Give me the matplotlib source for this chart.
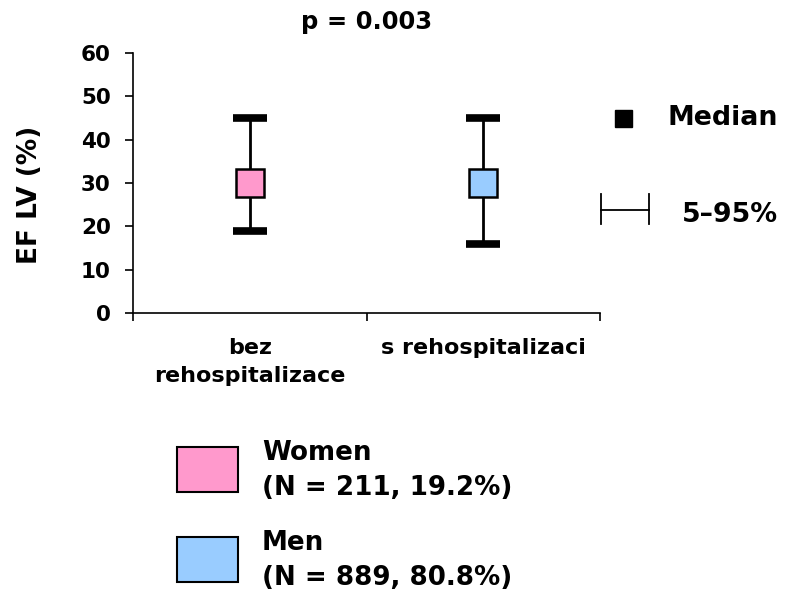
import matplotlib.pyplot as plt
from matplotlib.patches import Rectangle
from matplotlib.lines import Line2D

plt.rcParams['font.family'] = ['DejaVu Sans']
plt.rcParams['font.weight'] = 'bold'

categories = ['bez\nrehospitalizace', 's rehospitalizaci']
medians = [30, 30]
p5 = [19, 16]
p95 = [45, 45]
box_colors = ['#FF99CC', '#99CCFF']
groups = ['Women', 'Men']
group_info = ['(N = 211, 19.2%)', '(N = 889, 80.8%)']

fig = plt.figure(figsize=(7.85, 6), dpi=100)
ax = fig.add_axes([133/785, 1 - 313/600, 467/785, 260/600])

xpos = [0.25, 0.75]
for x, m, lo, hi, c in zip(xpos, medians, p5, p95, box_colors):
    ax.errorbar([x], [m], yerr=[[m - lo], [hi - m]], fmt='none', ecolor='black',
                elinewidth=2, capsize=12, capthick=5.5, zorder=2)
    ax.plot([x], [m], marker='s', markersize=19.5, markerfacecolor=c,
            markeredgecolor='black', markeredgewidth=1.8, zorder=3)

ax.set_xlim(0, 1)
ax.set_ylim(0, 60)
ax.set_yticks(range(0, 61, 10))
ax.set_xticks(xpos)
ax.set_xticklabels(categories, fontsize=16, fontweight='bold', linespacing=1.5)
ax.set_xticks([0, 0.5, 1], minor=True)
ax.tick_params(axis='x', which='major', length=0, pad=18)
ax.tick_params(axis='x', which='minor', length=6, width=1.2, direction='out')
ax.tick_params(axis='y', length=6, width=1.2, labelsize=15.5, pad=10)
for lab in ax.get_yticklabels():
    lab.set_fontweight('bold')
for s in ['top', 'right']:
    ax.spines[s].set_visible(False)
for s in ['left', 'bottom']:
    ax.spines[s].set_linewidth(1.2)

fig.text(30/785, 1 - 195/600, 'EF LV (%)', fontsize=19, fontweight='bold',
         rotation=90, ha='center', va='center')
ax.set_title('p = 0.003', fontsize=17.5, fontweight='bold', pad=17)

# right legend
fig.add_artist(Rectangle((615/785, 1 - 127/600), 17/785, 17/600,
                         facecolor='black', edgecolor='black',
                         transform=fig.transFigure))
fig.text(668/785, 1 - 118/600, 'Median', fontsize=19.3, fontweight='bold', va='center')
ey = 1 - 210/600
fig.add_artist(Line2D([601/785, 649/785], [ey, ey], color='black', lw=1.3,
                      transform=fig.transFigure))
for xx in [601/785, 649/785]:
    fig.add_artist(Line2D([xx, xx], [1 - 224/600, 1 - 194/600], color='black',
                          lw=1.3, transform=fig.transFigure))
fig.text(682/785, 1 - 215/600, '5–95%', fontsize=19.3, fontweight='bold', va='center')

# bottom legend
rect_tops = [447, 537]
for top, c, g, info in zip(rect_tops, box_colors, groups, group_info):
    fig.add_artist(Rectangle((177/785, 1 - (top + 45)/600), 61/785, 45/600,
                             facecolor=c, edgecolor='black', lw=1.5,
                             transform=fig.transFigure))
    fig.text(262/785, 1 - (top + 6)/600, g, fontsize=18.8, fontweight='bold', va='center')
    fig.text(262/785, 1 - (top + 41)/600, info, fontsize=18.8, fontweight='bold', va='center')

fig.savefig('out.png', dpi=100)
